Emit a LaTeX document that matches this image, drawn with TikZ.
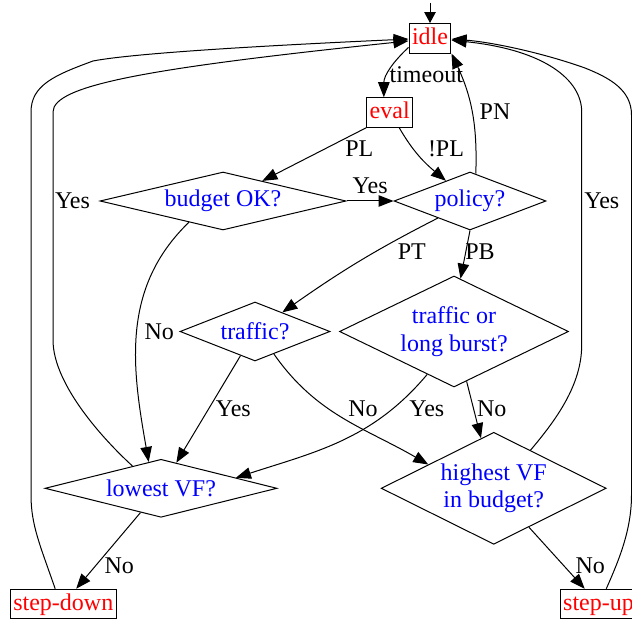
\documentclass[tikz,border=0pt]{standalone}
\usepackage{fontspec}
\setmainfont{Liberation Serif}
\usetikzlibrary{arrows.meta,shapes.geometric}
\begin{document}
\begin{tikzpicture}[x=1pt,y=1pt,
  every node/.style={font=\fontsize{24}{27.5}\selectfont},
  flow/.style={line width=1pt, -{Triangle[length=15pt,width=11.5pt]}},
  startarrow/.style={line width=1pt, -{Triangle[length=11pt,width=11.5pt]}},
  statebox/.style={draw, line width=1pt, rectangle, text=red, inner xsep=3pt,
    inner ysep=0pt, minimum height=29.5pt, text height=17pt, text depth=4pt},
  testbox/.style={draw, line width=1pt, diamond, text=blue, align=center, inner sep=0pt},
  lbl/.style={inner sep=0pt}]

\useasboundingbox (0,0) rectangle (632,-620);
\clip (0,0) rectangle (632,-620);

% states
\node[statebox] (idle) at (430,-38.3) {idle};
\node[statebox] (eval) at (389.7,-112.5) {eval};
\node[statebox] (stepdown) at (63.3,-604) {step-down};
\node[statebox] (stepup) at (598.5,-604) {step-up};

% decisions
\node[testbox, minimum width=246pt, minimum height=58pt, aspect=4.24] (budget) at (223,-201) {budget OK?};
\node[testbox, minimum width=152pt, minimum height=58pt, aspect=2.62] (policy) at (470,-201) {policy?};
\node[testbox, minimum width=150pt, minimum height=59pt, aspect=2.54] (traffic) at (255,-331.5) {traffic?};
\node[testbox, minimum width=229pt, minimum height=111pt, aspect=2.06] (burst) at (454,-331.5) {traffic or\\long burst?};
\node[testbox, minimum width=232pt, minimum height=58pt, aspect=4] (lowest) at (161,-488.3) {lowest VF?};
\node[testbox, minimum width=225pt, minimum height=112pt, aspect=2] (highest) at (493.7,-488.3) {highest VF\\in budget?};

% entry
\coordinate (start) at (430,-3);
\draw[startarrow] (start) -- (idle);

% transitions
\draw[flow] (idle.203) to[out=223,in=90] (eval.111);
\draw[flow] (eval.south west) -- (budget);
\draw[flow] (eval.-58) to[out=-60,in=140] (policy);
\draw[flow] (budget.east) -- (policy.west);
\draw[flow] (policy.78) to[out=88,in=-65] (idle.south east);
\draw[flow] (policy.208) to[out=207,in=35] (traffic);
\draw[flow] (policy.south) -- (burst.83);
\draw[flow] (budget.212) to[out=224,in=100] (lowest.115);
\draw[flow] (traffic) -- (lowest);
\draw[flow] (traffic.-50) to[out=-55,in=150] (highest.160);
\draw[flow] (burst.238) to[out=-130,in=18] (lowest.8);
\draw[flow] (burst) -- (highest);
\draw[flow] (lowest) -- (stepdown);
\draw[flow] (highest) -- (stepup);

% return loops to idle
\draw[flow] (lowest.142) .. controls (105,-441) and (53,-385) .. (53,-340)
  -- (53,-112) .. controls (53,-85) and (150,-68) .. (idle.187);
\draw[flow] (stepdown.118) .. controls (40,-545) and (31,-525) .. (31,-495)
  -- (31,-112) .. controls (31,-85) and (55,-75) .. (93,-61)
  .. controls (140,-52) and (300,-44) .. (idle.182);
\draw[flow] (highest.46) .. controls (556,-420) and (581.7,-385) .. (581.7,-345)
  -- (581.7,-112) .. controls (581.7,-80) and (545,-50) .. (idle.-5);
\draw[flow] (stepup.63) .. controls (619,-560) and (631.5,-530) .. (631.5,-495)
  -- (631.5,-115) .. controls (631.5,-90) and (610,-78) .. (585,-68)
  .. controls (540,-52) and (490,-42) .. (idle.-2);

% edge labels
\node[lbl] (lTimeout) at (426.3,-75) {timeout};
\node[lbl] (lPL) at (359.3,-149) {PL};
\node[lbl] (lNotPL) at (446,-149) {!PL};
\node[lbl] (lPN) at (495,-111.7) {PN};
\node[lbl] (lBudgetYes) at (370.2,-185.7) {Yes};
\node[lbl] (lLowYes) at (72.5,-201) {Yes};
\node[lbl] (lHighYes) at (601.8,-201) {Yes};
\node[lbl] (lPT) at (411.8,-251.7) {PT};
\node[lbl] (lPB) at (480,-252) {PB};
\node[lbl] (lBudgetNo) at (159.2,-331.7) {No};
\node[lbl] (lTrafficYes) at (233.3,-409) {Yes};
\node[lbl] (lTrafficNo) at (363,-409) {No};
\node[lbl] (lBurstYes) at (426.8,-409) {Yes};
\node[lbl] (lBurstNo) at (491.8,-409) {No};
\node[lbl] (lLowNo) at (119.2,-566) {No};
\node[lbl] (lHighNo) at (590.2,-566) {No};
\end{tikzpicture}
\end{document}
